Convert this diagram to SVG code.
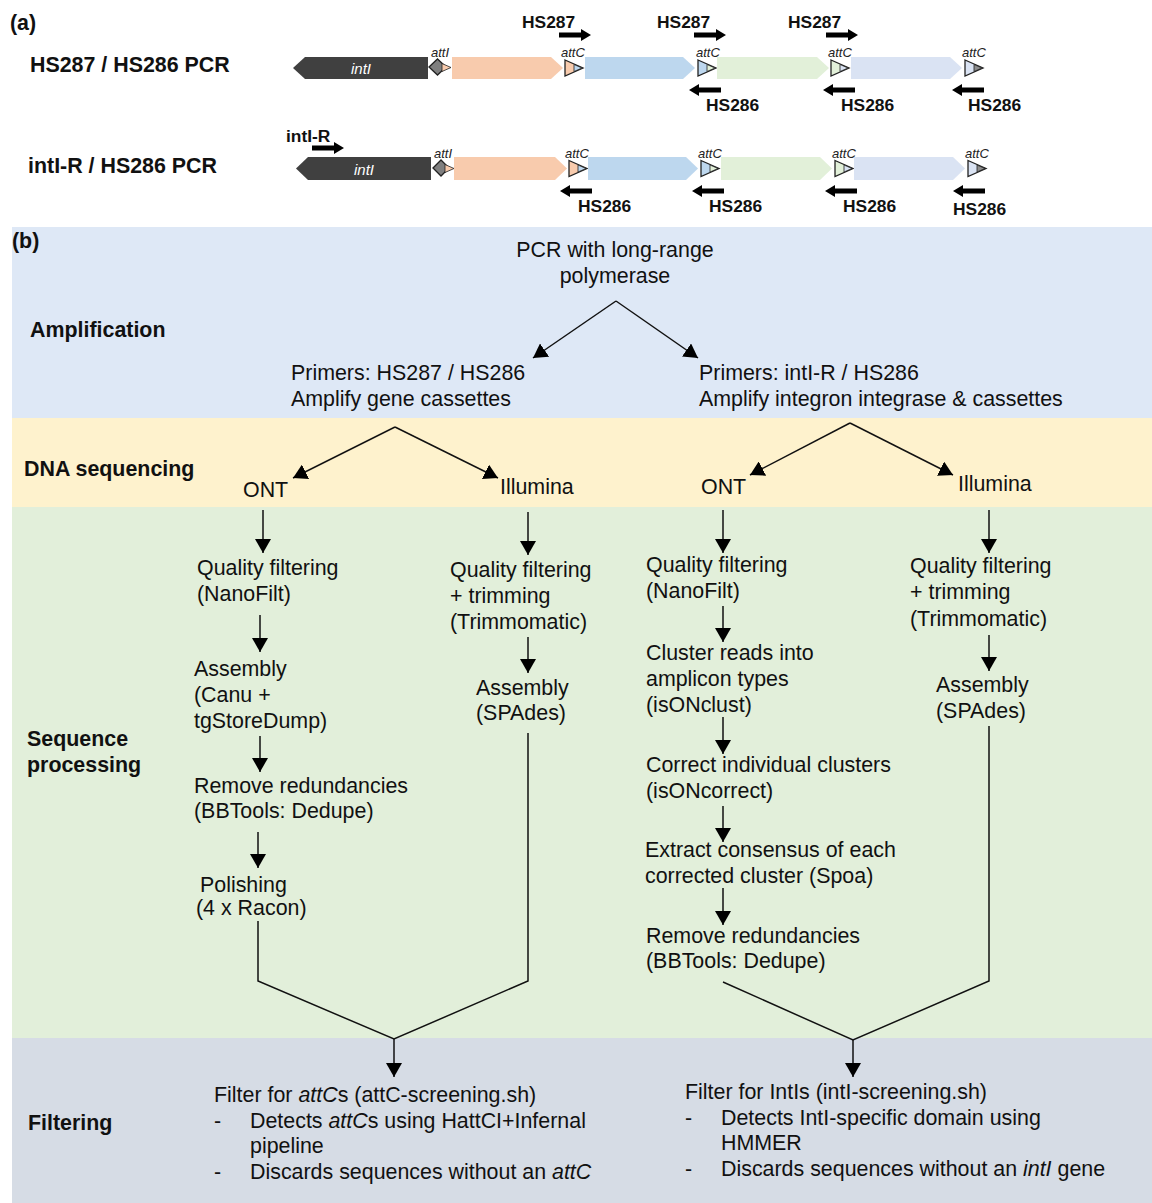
<svg xmlns="http://www.w3.org/2000/svg" xmlns:xlink="http://www.w3.org/1999/xlink" width="1152" height="1203" viewBox="0 0 1152 1203">
<style>
.t{font-family:"Liberation Sans",Arial,Helvetica,sans-serif;font-size:21.4px;fill:#111}
.b{font-weight:bold}
.i{font-style:italic}
.lab{font-family:"Liberation Sans",Arial,sans-serif;font-size:17.4px;font-weight:bold;fill:#111}
.att{font-family:"Liberation Sans",Arial,sans-serif;font-size:13px;font-style:italic;fill:#222}
.gi{font-family:"Liberation Sans",Arial,sans-serif;font-size:15px;font-style:italic;fill:#fff}
.ln{stroke:#111;stroke-width:1.5;fill:none}
.ar{stroke:#111;stroke-width:1.5;fill:none;marker-end:url(#ah)}
.tri{stroke:#222;stroke-width:1.3;stroke-linejoin:miter}
.itri{stroke:#222;stroke-width:0.8}
</style>
<defs>
<marker id="ah" markerUnits="userSpaceOnUse" markerWidth="16" markerHeight="16" refX="14" refY="8" orient="auto">
<path d="M0,0 L14,8 L0,16 z" fill="#000"/>
</marker>
<path id="pr" d="M0,-2.5 H22 V-6 L32,0 L22,6 V2.5 H0 Z" fill="#000"/>
<path id="pl" d="M0,0 L10,-6 V-2.5 H32 V2.5 H10 V6 Z" fill="#000"/>
</defs>

<!-- background panels -->
<g id="panels">
<rect x="12" y="227" width="1140" height="191" fill="#dee8f6"/>
<rect x="12" y="418" width="1140" height="89" fill="#fef2cd"/>
<rect x="12" y="507" width="1140" height="531" fill="#e2efda"/>
<rect x="12" y="1038" width="1140" height="165" fill="#d6dce5"/>
</g>

<!-- part (a) -->
<g id="part-a">
<text class="t b" x="10" y="30">(a)</text>
<text class="t b" x="30" y="72">HS287 / HS286 PCR</text>
<text class="t b" x="28" y="173">intI-R / HS286 PCR</text>

<g id="row1">
<polygon points="293,68 305,57 428,57 428,79 305,79" fill="#404040"/>
<text class="gi" x="361" y="74" text-anchor="middle">intI</text>
<polygon class="tri" points="429,67 437.5,59 446,67 437.5,75" fill="#7f7f7f"/>
<polygon class="itri" points="442,63.5 451,67.5 442,71.5" fill="#f8cbad"/>
<text class="att" x="431" y="57">attI</text>
<polygon points="452,57 551,57 563,68 551,79 452,79" fill="#f8cbad"/>
<polygon class="tri" points="565,60 583,68 565,76" fill="#f8cbad"/>
<polygon class="itri" points="574,64.5 582,68 574,71.5" fill="#bdd7ee"/>
<text class="att" x="561" y="57">attC</text>
<polygon points="585,57 683,57 695,68 683,79 585,79" fill="#bdd7ee"/>
<polygon class="tri" points="698,60 716,68 698,76" fill="#bdd7ee"/>
<polygon class="itri" points="707,64.5 715,68 707,71.5" fill="#e2f0d9"/>
<text class="att" x="696" y="57">attC</text>
<polygon points="717,57 817,57 829,68 817,79 717,79" fill="#e2f0d9"/>
<polygon class="tri" points="831,60 849,68 831,76" fill="#e2f0d9"/>
<polygon class="itri" points="840,64.5 848,68 840,71.5" fill="#dae3f3"/>
<text class="att" x="828" y="57">attC</text>
<polygon points="851,57 950,57 962,68 950,79 851,79" fill="#dae3f3"/>
<polygon class="tri" points="965,60 983,68 965,76" fill="#dae3f3"/>
<polygon class="itri" points="974,64.5 982,68 974,71.5" fill="#8c8c8c"/>
<text class="att" x="962" y="57">attC</text>
<text class="lab" x="522" y="28">HS287</text>
<use xlink:href="#pr" x="559" y="35"/>
<text class="lab" x="657" y="28">HS287</text>
<use xlink:href="#pr" x="694" y="35"/>
<text class="lab" x="788" y="28">HS287</text>
<use xlink:href="#pr" x="826" y="35"/>
<use xlink:href="#pl" x="689" y="90"/>
<text class="lab" x="706" y="111">HS286</text>
<use xlink:href="#pl" x="823" y="90"/>
<text class="lab" x="841" y="111">HS286</text>
<use xlink:href="#pl" x="952" y="90"/>
<text class="lab" x="968" y="111">HS286</text>
</g>

<g id="row2">
<polygon points="296,168.5 308,157 431,157 431,180 308,180" fill="#404040"/>
<text class="gi" x="364" y="175" text-anchor="middle">intI</text>
<polygon class="tri" points="433,168 441,160 449,168 441,176" fill="#7f7f7f"/>
<polygon class="itri" points="445,164.5 454,168.5 445,172.5" fill="#f8cbad"/>
<text class="att" x="434" y="158">attI</text>
<polygon points="454,157 555,157 567,168.5 555,180 454,180" fill="#f8cbad"/>
<polygon class="tri" points="569,160.5 587,168.5 569,176.5" fill="#f8cbad"/>
<polygon class="itri" points="578,165 586,168.5 578,172" fill="#bdd7ee"/>
<text class="att" x="565" y="158">attC</text>
<polygon points="588,157 686,157 698,168.5 686,180 588,180" fill="#bdd7ee"/>
<polygon class="tri" points="701,160.5 719,168.5 701,176.5" fill="#bdd7ee"/>
<polygon class="itri" points="710,165 718,168.5 710,172" fill="#e2f0d9"/>
<text class="att" x="698" y="158">attC</text>
<polygon points="721,157 820,157 832,168.5 820,180 721,180" fill="#e2f0d9"/>
<polygon class="tri" points="835,160.5 853,168.5 835,176.5" fill="#e2f0d9"/>
<polygon class="itri" points="844,165 852,168.5 844,172" fill="#dae3f3"/>
<text class="att" x="832" y="158">attC</text>
<polygon points="854,157 953,157 965,168.5 953,180 854,180" fill="#dae3f3"/>
<polygon class="tri" points="968,160.5 986,168.5 968,176.5" fill="#dae3f3"/>
<polygon class="itri" points="977,165 985,168.5 977,172" fill="#8c8c8c"/>
<text class="att" x="965" y="158">attC</text>
<text class="lab" x="286" y="142">intI-R</text>
<use xlink:href="#pr" x="312" y="148"/>
<use xlink:href="#pl" x="560" y="191"/>
<text class="lab" x="578" y="212">HS286</text>
<use xlink:href="#pl" x="692" y="191"/>
<text class="lab" x="709" y="212">HS286</text>
<use xlink:href="#pl" x="825" y="191"/>
<text class="lab" x="843" y="212">HS286</text>
<use xlink:href="#pl" x="953" y="191"/>
<text class="lab" x="953" y="215">HS286</text>
</g>
</g>

<!-- part (b) stage labels -->
<g id="stage-labels">
<text class="t b" x="12" y="248">(b)</text>
<text class="t b" x="30" y="337">Amplification</text>
<text class="t b" x="24" y="476">DNA sequencing</text>
<text class="t b" x="27" y="746">Sequence</text>
<text class="t b" x="27" y="772">processing</text>
<text class="t b" x="28" y="1130">Filtering</text>
</g>

<!-- connectors -->
<g id="connectors">
<line class="ar" x1="616" y1="301" x2="533" y2="358"/>
<line class="ar" x1="616" y1="301" x2="698" y2="358"/>
<line class="ar" x1="395" y1="427" x2="293" y2="478"/>
<line class="ar" x1="395" y1="427" x2="498" y2="478"/>
<line class="ar" x1="850" y1="423" x2="750" y2="475"/>
<line class="ar" x1="850" y1="423" x2="953" y2="475"/>
<line class="ar" x1="263" y1="510" x2="263" y2="553"/>
<line class="ar" x1="260" y1="615" x2="260" y2="652"/>
<line class="ar" x1="260" y1="736" x2="260" y2="772"/>
<line class="ar" x1="258" y1="832" x2="258" y2="868"/>
<line class="ar" x1="528" y1="512" x2="528" y2="555"/>
<line class="ar" x1="528" y1="637" x2="528" y2="673"/>
<polyline class="ln" points="258,921 258,981 394,1039 528,981 528,733"/>
<line class="ar" x1="394" y1="1039" x2="394" y2="1077"/>
<line class="ar" x1="723" y1="510" x2="723" y2="553"/>
<line class="ar" x1="723" y1="606" x2="723" y2="642"/>
<line class="ar" x1="723" y1="717" x2="723" y2="754"/>
<line class="ar" x1="723" y1="806" x2="723" y2="842"/>
<line class="ar" x1="723" y1="888" x2="723" y2="925"/>
<line class="ar" x1="989" y1="510" x2="989" y2="553"/>
<line class="ar" x1="989" y1="635" x2="989" y2="671"/>
<polyline class="ln" points="723,982 853,1040 989,981 989,726"/>
<line class="ar" x1="853" y1="1040" x2="853" y2="1077"/>
</g>

<!-- nodes -->
<g id="n-pcr"><text class="t" x="615" y="257" text-anchor="middle">PCR with long-range</text><text class="t" x="615" y="283" text-anchor="middle">polymerase</text></g>
<g id="n-primers1"><text class="t" x="291" y="380">Primers: HS287 / HS286</text><text class="t" x="291" y="406">Amplify gene cassettes</text></g>
<g id="n-primers2"><text class="t" x="699" y="380">Primers: intI-R / HS286</text><text class="t" x="699" y="406">Amplify integron integrase &amp; cassettes</text></g>
<g id="n-ont1"><text class="t" x="243" y="497">ONT</text></g>
<g id="n-ill1"><text class="t" x="500" y="494">Illumina</text></g>
<g id="n-ont2"><text class="t" x="701" y="494">ONT</text></g>
<g id="n-ill2"><text class="t" x="958" y="491">Illumina</text></g>

<g id="n-l-qf"><text class="t" x="197" y="575">Quality filtering</text><text class="t" x="197" y="601">(NanoFilt)</text></g>
<g id="n-l-asm"><text class="t" x="194" y="676">Assembly</text><text class="t" x="194" y="702">(Canu +</text><text class="t" x="194" y="728">tgStoreDump)</text></g>
<g id="n-l-rr"><text class="t" x="194" y="793">Remove redundancies</text><text class="t" x="194" y="818">(BBTools: Dedupe)</text></g>
<g id="n-l-pol"><text class="t" x="200" y="892">Polishing</text><text class="t" x="196" y="915">(4 x Racon)</text></g>

<g id="n-li-qf"><text class="t" x="450" y="577">Quality filtering</text><text class="t" x="450" y="603">+ trimming</text><text class="t" x="450" y="629">(Trimmomatic)</text></g>
<g id="n-li-asm"><text class="t" x="476" y="695">Assembly</text><text class="t" x="476" y="720">(SPAdes)</text></g>

<g id="n-r-qf"><text class="t" x="646" y="572">Quality filtering</text><text class="t" x="646" y="598">(NanoFilt)</text></g>
<g id="n-r-cl"><text class="t" x="646" y="660">Cluster reads into</text><text class="t" x="646" y="686">amplicon types</text><text class="t" x="646" y="712">(isONclust)</text></g>
<g id="n-r-cor"><text class="t" x="646" y="772">Correct individual clusters</text><text class="t" x="646" y="798">(isONcorrect)</text></g>
<g id="n-r-con"><text class="t" x="645" y="857">Extract consensus of each</text><text class="t" x="645" y="883">corrected cluster (Spoa)</text></g>
<g id="n-r-rr"><text class="t" x="646" y="943">Remove redundancies</text><text class="t" x="646" y="968">(BBTools: Dedupe)</text></g>

<g id="n-ri-qf"><text class="t" x="910" y="573">Quality filtering</text><text class="t" x="910" y="599">+ trimming</text><text class="t" x="910" y="626">(Trimmomatic)</text></g>
<g id="n-ri-asm"><text class="t" x="936" y="692">Assembly</text><text class="t" x="936" y="718">(SPAdes)</text></g>

<g id="n-filt-attc">
<text class="t" x="214" y="1102">Filter for <tspan class="i">attC</tspan>s (attC-screening.sh)</text>
<text class="t" x="214" y="1128">-</text>
<text class="t" x="250" y="1128">Detects <tspan class="i">attC</tspan>s using HattCI+Infernal</text>
<text class="t" x="250" y="1153">pipeline</text>
<text class="t" x="214" y="1179">-</text>
<text class="t" x="250" y="1179">Discards sequences without an <tspan class="i">attC</tspan></text>
</g>
<g id="n-filt-intl">
<text class="t" x="685" y="1099">Filter for IntIs (intI-screening.sh)</text>
<text class="t" x="685" y="1125">-</text>
<text class="t" x="721" y="1125">Detects IntI-specific domain using</text>
<text class="t" x="721" y="1150">HMMER</text>
<text class="t" x="685" y="1176">-</text>
<text class="t" x="721" y="1176">Discards sequences without an <tspan class="i">intI</tspan> gene</text>
</g>
</svg>
